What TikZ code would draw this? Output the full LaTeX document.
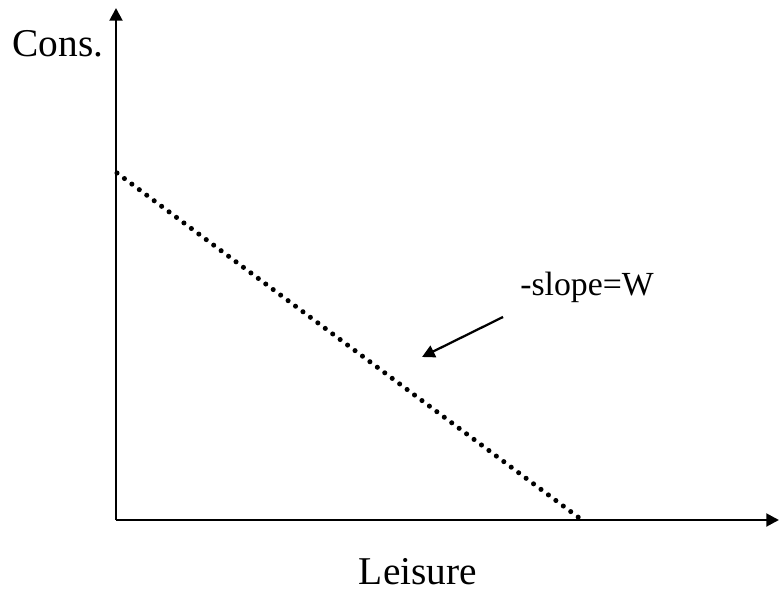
\documentclass[tikz,border=0pt]{standalone}
\usepackage{fontspec}
\setmainfont{Liberation Serif}
\usetikzlibrary{arrows.meta}

\tikzset{
    axisline/.style={line width=2pt, -{Triangle[length=9pt, width=9pt]}},
    budget/.style={line width=3.6pt, line cap=round, dash pattern=on 0pt off 6.6pt},
    pointer/.style={line width=1.6pt, -{Triangle[length=9pt, width=9pt]}},
    bigtext/.style={font=\fontsize{28}{32}\selectfont, inner sep=0pt},
    midtext/.style={font=\fontsize{24}{28}\selectfont, inner sep=0pt}
}

\begin{document}
\begin{tikzpicture}[x=0.025cm, y=0.025cm]
        \useasboundingbox (0, 0) rectangle (780, 591);

        % axes
        \coordinate (origin) at (116, 71);
        \coordinate (ytop) at (116, 583);
        \coordinate (xend) at (779, 71);
        \draw[axisline] (origin) -- (ytop);
        \draw[axisline] (origin) -- (xend);

        \node[bigtext, anchor=base] (cons) at (58, 534) {Cons.};
        \node[bigtext, anchor=base] (leisure) at (418, 7) {Leisure};

        % budget line
        \coordinate (bl0) at (117, 418);
        \coordinate (bl1) at (582, 71);
        \draw[budget] (bl0) -- (bl1);

        % slope label
        \node[midtext, anchor=base west] (slope) at (520, 295) {-slope=W};
        \coordinate (ptail) at (503, 274);
        \coordinate (phead) at (422, 234);
        \draw[pointer] (ptail) -- (phead);
    \end{tikzpicture}
\end{document}
